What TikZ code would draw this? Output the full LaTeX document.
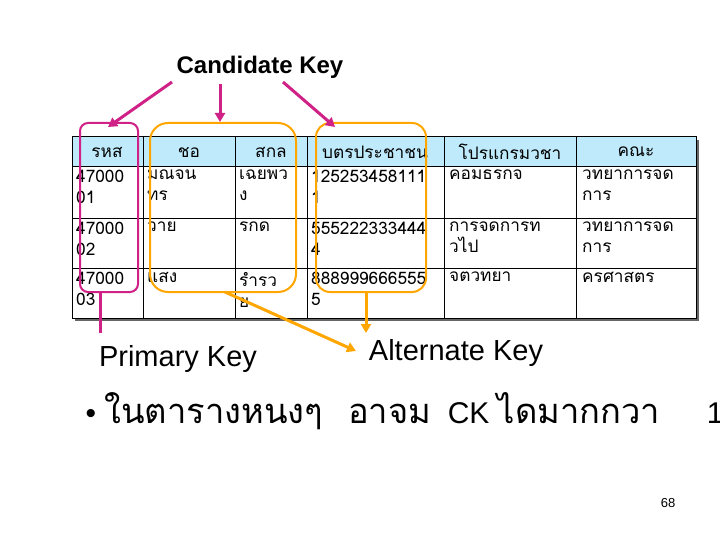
\documentclass[tikz,border=0pt]{standalone}
\usepackage{fontspec}
\setmainfont{Liberation Sans}
\newfontfamily\thai[Script=Thai,Scale=1.15]{Loma}
\usetikzlibrary{arrows.meta}
\begin{document}
\begin{tikzpicture}[x=1pt,y=-1pt,
  cell/.style={anchor=north west,inner sep=2pt,align=left,font=\fontsize{15}{21}\selectfont\thai},
  hcell/.style={anchor=center,font=\fontsize{15}{18}\selectfont\thai},
  pinkc/.style={draw=magenta!85!black,line width=2pt},
  orc/.style={draw=orange!70!yellow,line width=2pt},
  parr/.style={magenta!85!black,line width=3pt,-{Triangle[length=9pt,width=10pt]}},
  oarr/.style={orange!70!yellow,line width=3pt,-{Triangle[length=9pt,width=10pt]}}]
\useasboundingbox (0,0) rectangle (720,540);
% shadow and table
\fill[black!60] (75,140) rectangle (699,321);
\fill[white] (72,137) rectangle (696,318);
\fill[cyan!25] (72,137) rectangle (696,166);
\draw[line width=1pt] (72,137) rectangle (696,318);
\foreach \y in {166,218,268} \draw (72,\y) -- (696,\y);
\foreach \x in {143,235,307,444,576} \draw (\x,137) -- (\x,318);
\node[hcell] (h1) at (107,152) {รหส};
\node[hcell] (h2) at (189,152) {ชอ};
\node[hcell] (h3) at (271,152) {สกล};
\node[hcell] (h4) at (375,152) {บตรประชาชน};
\node[hcell] (h5) at (510,152) {โปรแกรมวชา};
\node[hcell] (h6) at (636,152) {คณะ};
\foreach \y/\a/\b/\c/\d/\e/\f in {
 168/47000\\01/มณจน\\ทร/เฉยพว\\ง/125253458111\\1/คอมธรกจ/วทยาการจด\\การ,
 220/47000\\02/วาย/รกด/555222333444\\4/การจดการท\\วไป/วทยาการจด\\การ,
 270/47000\\03/แสง/รำรว\\ย/888999666555\\5/จตวทยา/ครศาสตร}{
 \node[cell] at (74,\y) {\a};
 \node[cell] at (145,\y) {\b};
 \node[cell] at (237,\y) {\c};
 \node[cell] at (309,\y) {\d};
 \node[cell] at (447,\y) {\e};
 \node[cell] at (580,\y) {\f};}
% key boxes
\draw[pinkc,rounded corners=8pt] (80,123) rectangle (138,292);
\node[inner sep=0,minimum width=58pt,minimum height=169pt] (pk) at (109,207.5) {};
\draw[orc,rounded corners=18pt] (150,123) rectangle (296,292);
\node[inner sep=0,minimum width=146pt,minimum height=169pt] (ck2) at (223,207.5) {};
\draw[orc,rounded corners=14pt] (316,123) rectangle (426,292);
\node[inner sep=0,minimum width=110pt,minimum height=169pt] (ck3) at (371,207.5) {};
% labels
\node[font=\bfseries\fontsize{24}{28}\selectfont] (cand) at (260,67) {Candidate Key};
\coordinate (c1) at (172,82); \coordinate (c2) at (220,84); \coordinate (c3) at (283,82);
\draw[parr] (c1) -- (108,127);
\draw[parr] (c2) -- (220,122);
\draw[parr] (c3) -- (335,127);
\node[font=\fontsize{29}{34}\selectfont] (prim) at (178,359) {Primary Key};
\node[font=\fontsize{29}{34}\selectfont] (alt) at (456,353) {Alternate Key};
\coordinate (p0) at (100,292);
\draw[magenta!85!black,line width=3pt] (p0) -- (100,333);
\draw[oarr] (225,292) -- (356,351);
\draw[oarr] (366,292) -- (366,333);
\node[anchor=west,font=\fontsize{30}{34}\selectfont] (bul) at (82,411) {• {\thai ในตารางหนงๆ}\ \ \ {\thai อาจม}\ \ CK {\thai ไดมากกวา}\quad\ \ 1};
\node[font=\fontsize{13}{15}\selectfont] (pg) at (668,503) {68};
\end{tikzpicture}
\end{document}
